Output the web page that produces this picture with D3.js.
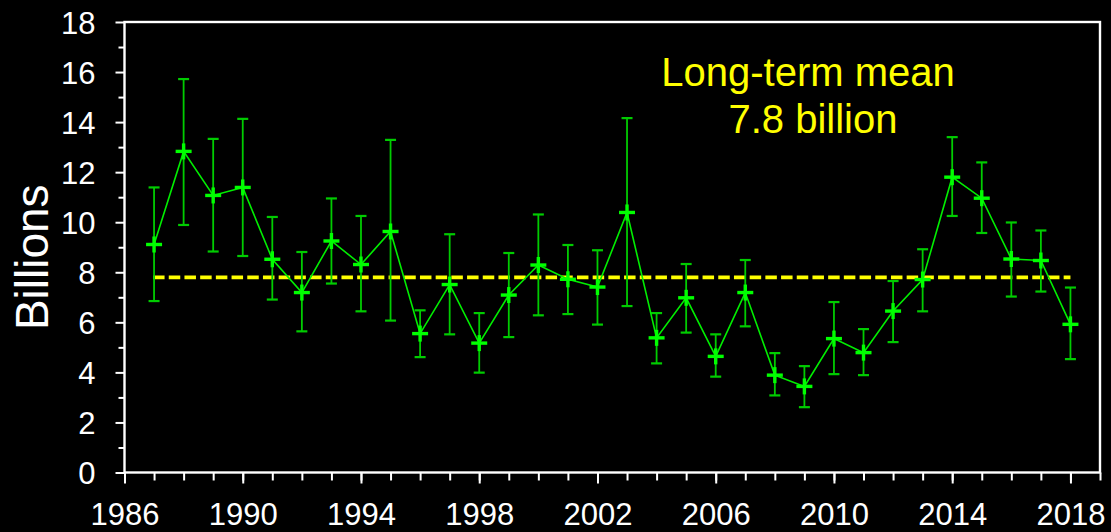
<!DOCTYPE html>
<html>
<head>
<meta charset="utf-8">
<script src="https://cdn.jsdelivr.net/npm/d3@7"></script>
<style>
  html, body { margin: 0; padding: 0; background: #000; }
  svg { display: block; }
  text { font-family: "Liberation Sans", Arial, sans-serif; }
</style>
</head>
<body>
<svg id="chart" width="1111" height="532"></svg>
<script>
const years = d3.range(1987, 2019);
const values = [9.11, 12.83, 11.07, 11.39, 8.52, 7.19, 9.25, 8.31, 9.63, 5.55,
  7.51, 5.17, 7.09, 8.29, 7.72, 7.41, 10.39, 5.38, 6.98, 4.64,
  7.19, 3.89, 3.44, 5.35, 4.79, 6.45, 7.71, 11.80, 10.96, 8.53,
  8.47, 5.92];
const upper = [11.39, 15.72, 13.33, 14.13, 10.21, 8.81, 10.95, 10.25, 13.29, 6.48,
  9.52, 6.37, 8.77, 10.31, 9.09, 8.88, 14.16, 6.37, 8.33, 5.52,
  8.49, 4.77, 4.25, 6.81, 5.73, 7.65, 8.92, 13.40, 12.39, 9.99,
  9.67, 7.39];
const lower = [6.85, 9.89, 8.83, 8.65, 6.91, 5.64, 7.55, 6.44, 6.07, 4.61,
  5.52, 3.99, 5.41, 6.28, 6.33, 5.91, 6.65, 4.36, 5.59, 3.83,
  5.84, 3.08, 2.61, 3.93, 3.89, 5.21, 6.44, 10.25, 9.57, 7.03,
  7.23, 4.53];
const meanValue = 7.8;
const meanYears = [1987, 2018];
const xMajorTicks = d3.range(1986, 2019, 4);
const xMinorTicks = d3.range(1986, 2020, 1);
const yMajorTicks = d3.range(0, 19, 2);
const yMinorTicks = d3.range(1, 18, 2);
const annotation = ["Long-term mean", "7.8 billion"];
const yLabel = "Billions";

(function () {
const data = years.map((yr, i) => ({ year: yr, v: values[i], hi: upper[i], lo: lower[i] }));

const svg = d3.select("#chart");
const mLeft = 124.5, mRight = 1100, mTop = 22, mBottom = 472.5;
const x = d3.scaleLinear().domain([1986, 2019]).range([mLeft, mRight]);
const y = d3.scaleLinear().domain([0, 18]).range([mBottom, mTop]);

const white = "#ffffff";

const gxMinor = svg.append("g").attr("transform", `translate(0,${mBottom})`)
  .call(d3.axisBottom(x).tickValues(xMinorTicks).tickSize(8).tickFormat(""));
const gx = svg.append("g").attr("transform", `translate(0,${mBottom})`)
  .call(d3.axisBottom(x).tickValues(xMajorTicks).tickSize(11).tickPadding(19).tickFormat(d3.format("d")));
const gyMinor = svg.append("g").attr("transform", `translate(${mLeft},0)`)
  .call(d3.axisLeft(y).tickValues(yMinorTicks).tickSize(6).tickFormat(""));
const gy = svg.append("g").attr("transform", `translate(${mLeft},0)`)
  .call(d3.axisLeft(y).tickValues(yMajorTicks).tickSize(9).tickPadding(20));

[gxMinor, gx, gyMinor, gy].forEach(g => {
  g.select(".domain").remove();
  g.selectAll(".tick line").attr("stroke", white).attr("stroke-width", 2);
  g.selectAll(".tick text").attr("fill", white).style("font-size", "31px")
    .style("font-family", '"Liberation Sans", Arial, sans-serif');
});
gy.selectAll(".tick text").attr("dy", "0.36em");

svg.append("rect")
  .attr("x", mLeft).attr("y", mTop)
  .attr("width", mRight - mLeft).attr("height", mBottom - mTop)
  .attr("fill", "none").attr("stroke", white).attr("stroke-width", 2.4);

svg.append("text")
  .attr("transform", `translate(48,${(mTop + mBottom) / 2 + 10}) rotate(-90)`)
  .attr("text-anchor", "middle")
  .attr("fill", white)
  .style("font-size", "46px")
  .text(yLabel);

svg.append("text").attr("x", 808).attr("y", 86).attr("text-anchor", "middle")
  .attr("fill", "#ffff00").style("font-size", "40px").text(annotation[0]);
svg.append("text").attr("x", 813).attr("y", 133).attr("text-anchor", "middle")
  .attr("fill", "#ffff00").style("font-size", "40px").text(annotation[1]);

svg.append("line")
  .attr("x1", x(meanYears[0]) - 1).attr("x2", x(meanYears[1]))
  .attr("y1", y(meanValue)).attr("y2", y(meanValue))
  .attr("stroke", "#ffff00").attr("stroke-width", 3.8)
  .attr("stroke-dasharray", "11.5 4.2");

const eb = svg.append("g").attr("stroke", "#00cc00").attr("stroke-width", 1.8);
eb.selectAll("line.v").data(data).join("line").attr("class", "v")
  .attr("x1", d => x(d.year)).attr("x2", d => x(d.year))
  .attr("y1", d => y(d.hi)).attr("y2", d => y(d.lo));
eb.selectAll("line.ct").data(data).join("line").attr("class", "ct")
  .attr("x1", d => x(d.year) - 5.5).attr("x2", d => x(d.year) + 5.5)
  .attr("y1", d => y(d.hi)).attr("y2", d => y(d.hi)).attr("stroke-width", 2.2);
eb.selectAll("line.cb").data(data).join("line").attr("class", "cb")
  .attr("x1", d => x(d.year) - 5.5).attr("x2", d => x(d.year) + 5.5)
  .attr("y1", d => y(d.lo)).attr("y2", d => y(d.lo)).attr("stroke-width", 2.2);

svg.append("path").datum(data)
  .attr("fill", "none").attr("stroke", "#00ee00").attr("stroke-width", 1.6)
  .attr("d", d3.line().x(d => x(d.year)).y(d => y(d.v)));

const mk = svg.append("g").attr("stroke", "#00ff00").attr("stroke-width", 3.4);
mk.selectAll("line.h").data(data).join("line").attr("class", "h")
  .attr("x1", d => x(d.year) - 8).attr("x2", d => x(d.year) + 8)
  .attr("y1", d => y(d.v)).attr("y2", d => y(d.v));
mk.selectAll("line.vv").data(data).join("line").attr("class", "vv")
  .attr("x1", d => x(d.year)).attr("x2", d => x(d.year))
  .attr("y1", d => y(d.v) - 8).attr("y2", d => y(d.v) + 8);
})();
</script>
</body>
</html>
